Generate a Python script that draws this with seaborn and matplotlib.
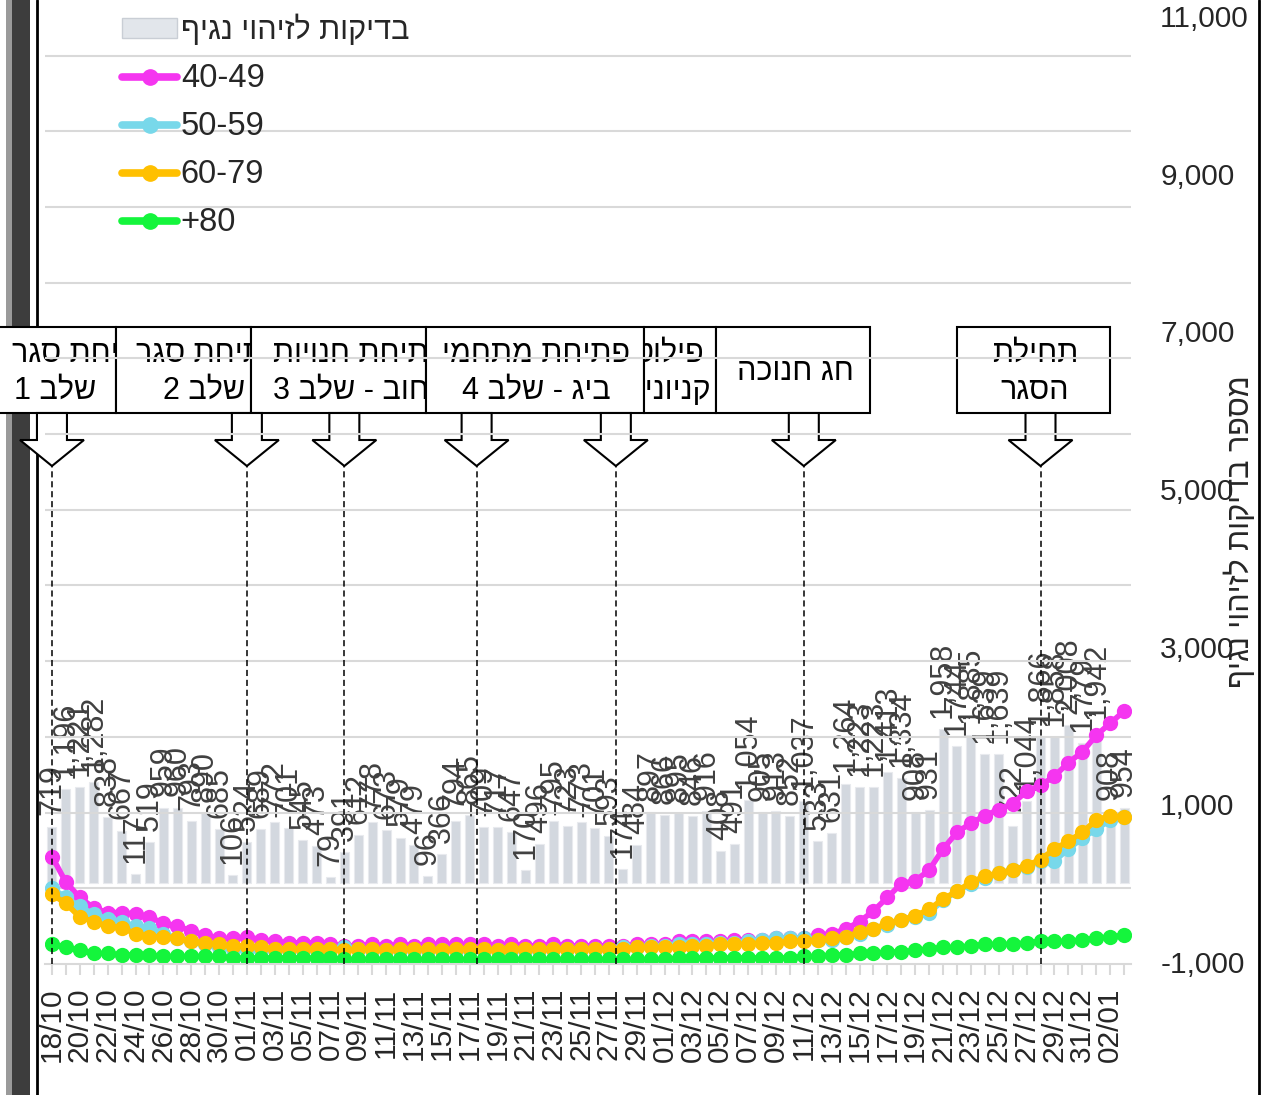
import re
import numpy as np
import pandas as pd
import matplotlib
matplotlib.use('Agg')
import matplotlib.pyplot as plt
import seaborn as sns
from matplotlib.patches import Rectangle, Polygon, Patch
from matplotlib.lines import Line2D
from matplotlib.transforms import Bbox, TransformedBbox

# data (18/10/2020 - 03/01/2021)
dates = pd.date_range('2020-10-18', '2021-01-03').strftime('%d/%m').tolist()

tests = [719, 1196, 1221, 1282, 838, 667, 117, 519, 959, 960, 793, 890, 685, 106,
         524, 689, 772, 701, 545, 473, 79, 391, 612, 778, 673, 579, 479, 96,
         366, 794, 865, 709, 717, 647, 170, 496, 795, 723, 773, 701, 593, 174,
         484, 897, 866, 895, 846, 916, 408, 491, 1054, 905, 913, 852, 1037, 533,
         631, 1264, 1223, 1223, 1413, 1334, 908, 931, 1958, 1744, 1885, 1639, 1639, 722,
         1044, 1866, 1858, 2008, 1779, 1942, 908, 954]

age_40_49 = [71, 54, 44, 37, 34, 34, 33, 31, 27, 25, 22, 19, 17, 17, 18, 16, 15, 14, 14, 14,
             13, 12, 12, 13, 12, 13, 12, 13, 13, 13, 13, 13, 12, 13, 12, 12, 13, 12, 12, 12,
             12, 12, 13, 13, 13, 15, 15, 15, 15, 16, 16, 16, 17, 17, 17, 19, 20, 23, 28, 35,
             44, 53, 55, 62, 76, 87, 93, 98, 102, 106, 114, 118, 124, 133, 140, 151, 159, 167]
age_50_59 = [50, 44, 38, 33, 30, 28, 25, 24, 20, 17, 15, 13, 11, 10, 9, 9, 9, 9, 9, 9,
             10, 11, 10, 9, 9, 9, 9, 9, 9, 9, 9, 9, 9, 9, 9, 9, 10, 10, 10, 10,
             10, 11, 11, 12, 12, 13, 13, 13, 14, 14, 15, 16, 17, 17, 17, 16, 16, 18, 20, 23,
             26, 29, 31, 34, 42, 48, 53, 57, 60, 62, 64, 68, 68, 76, 83, 89, 95, 97]
age_60_79 = [46, 40, 31, 28, 25, 24, 20, 18, 18, 17, 15, 14, 13, 12, 12, 11, 10, 10, 10, 10,
             10, 9, 10, 10, 9, 10, 10, 10, 9, 10, 10, 10, 9, 10, 10, 10, 10, 10, 10, 10,
             10, 10, 11, 11, 11, 11, 12, 12, 13, 13, 13, 14, 14, 15, 15, 16, 17, 18, 21, 23,
             27, 29, 32, 36, 43, 48, 54, 58, 60, 62, 65, 69, 76, 81, 87, 95, 98, 97]
age_80 = [13, 11, 9, 7, 7, 6, 6, 6, 5, 5, 5, 5, 5, 4, 4, 4, 4, 4, 4, 4,
          4, 3, 3, 3, 3, 3, 3, 3, 3, 3, 3, 3, 3, 3, 3, 3, 3, 3, 3, 3,
          3, 3, 3, 3, 3, 4, 4, 4, 4, 4, 4, 4, 4, 4, 5, 5, 6, 6, 7, 7,
          8, 8, 9, 10, 11, 11, 12, 13, 13, 13, 14, 15, 15, 15, 16, 17, 18, 19]

series_names = ['40-49', '50-59', '60-79', '+80']
series_colors = ['#f535f0', '#78d8ea', '#ffc000', '#14f53c']

# event markers: category position of each dashed line
event_pos = [0, 14, 21, 30.5, 40.5, 54, 71]


def heb(s):
    # matplotlib has no bidi support: flip to visual order, keep numbers readable
    r = s[::-1]
    return re.sub(r'\d+', lambda m: m.group(0)[::-1], r)


sns.set_theme(style='white')
plt.rcParams['font.family'] = ['Liberation Sans', 'DejaVu Sans']

W, H = 1268, 1095
fig = plt.figure(figsize=(W / 100, H / 100), dpi=100)
ax = fig.add_axes([45 / W, 1 - 964 / H, 1086 / W, 964 / H])
ax2 = ax.twinx()

# bars on the right axis
df = pd.DataFrame({'date': dates, 'tests': tests})
sns.barplot(data=df, x='date', y='tests', ax=ax2, color='#d3d8df', saturation=1,
            width=0.65, edgecolor='#e8eaee', linewidth=0.8)
for i, v in enumerate(tests):
    ax2.annotate(f'{v:,}', (i, v), xytext=(0, 8), textcoords='offset points',
                 rotation=90, ha='center', va='bottom', fontsize=22, color='#404040')

# age group lines on the hidden left axis
x_idx = np.arange(len(dates))
for name, vals, col in zip(series_names, [age_40_49, age_50_59, age_60_79, age_80], series_colors):
    sns.lineplot(x=x_idx, y=vals, ax=ax, color=col, lw=4, marker='o', markersize=11,
                 markeredgewidth=0, legend=False)

ax.set_zorder(ax2.get_zorder() + 1)
ax.patch.set_visible(False)

ax.set_xlim(-0.5, len(dates) - 0.5)
ax.set_ylim(0, 636.7)
ax2.set_ylim(-1025, 11203)

ax.set_yticks(np.arange(50, 637, 50))
ax.grid(axis='y', color='#d9d9d9', lw=1.5)
ax.grid(axis='x', visible=False)
ax.tick_params(axis='y', left=False, labelleft=False)

ax.set_xticks(range(0, len(dates), 2))
ax.set_xticklabels(dates[::2], rotation=90, fontsize=21.5)
ax.set_xticks(range(len(dates)), minor=True)
ax.tick_params(axis='x', which='both', bottom=True, length=8, width=1.5,
               color='#d9d9d9', direction='out', pad=9)

ax2.set_yticks(range(-1000, 11001, 2000))
ax2.set_yticklabels([f'{t:,}' for t in range(-1000, 11001, 2000)], fontsize=21.5)
ax2.tick_params(axis='y', right=False, length=0, pad=21)
ax2.grid(False)
ax.set_xlabel('')
ax.set_ylabel('')
ax2.set_xlabel('')
ax2.set_ylabel('')

for a in (ax, ax2):
    for s in ('top', 'left', 'right'):
        a.spines[s].set_visible(False)
ax2.spines['bottom'].set_visible(False)
ax.spines['bottom'].set_color('#d9d9d9')
ax.spines['bottom'].set_linewidth(1.5)

# dashed event lines
tip_y = 466
for p in event_pos:
    ax.axvline(p, ymin=0, ymax=(964 - tip_y) / 964, color='black', lw=1.1, ls=(0, (4, 2.5)), zorder=5)

fig.text(1240 / W, 1 - 532 / H, heb('מספר בדיקות לזיהוי נגיף'), rotation=90,
         ha='center', va='center', fontsize=22)

# legend
handles = [Patch(facecolor='#e2e6eb', edgecolor='#c9ced5', label=heb('בדיקות לזיהוי נגיף'))]
for name, col in zip(series_names, series_colors):
    handles.append(Line2D([0], [0], color=col, lw=5.5, marker='o', ms=11, label=name))
leg = fig.legend(handles=handles, loc='upper left', bbox_to_anchor=(122 / W, 1 - 15 / H),
                 frameon=False, fontsize=23.5, handlelength=1.7, handleheight=0.55,
                 handletextpad=0.1, labelspacing=0.52, borderpad=0, borderaxespad=0)
leg.get_texts()[0].set_fontsize(22)

# overlay in pixel coordinates for the frame, boxes and arrows
ov = fig.add_axes([0, 0, 1, 1])
ov.set_xlim(0, W)
ov.set_ylim(H, 0)
ov.axis('off')

ov.add_patch(Rectangle((6, 0), 6, H, fc='#9a9a9a', ec='none', zorder=1))
ov.add_patch(Rectangle((12, 0), 18, H, fc='#3d3d3d', ec='none', zorder=1))
ov.plot([37, 37], [0, H], color='black', lw=2, zorder=1)
ov.plot([1259, 1259], [0, H], color='black', lw=2, zorder=1)

box_top, box_bot = 327, 413
boxes = [
    (-5, 116, [('פתיחת סגר', 12, 'left'), ('שלב 1', 14, 'left')]),
    (116, 251, [('פתיחת סגר', 136, 'left'), ('שלב 2', 245, 'right')]),
    (251, 426, [('פתיחת חנויות', 273, 'left'), ('רחוב - שלב 3', 273, 'left')]),
    (426, 644, [('פתיחת מתחמי', 536, 'center'), ('ביג - שלב 4', 536, 'center')]),
    (644, 716, [('פילוט', 704, 'right'), ('קניונים', 711, 'right')]),
    (716, 870, [('חג חנוכה', 795, 'center')]),
    (957, 1110, [('תחילת', 1035, 'center'), ('הסגר', 1035, 'center')]),
]
for x0, x1, lines in boxes:
    ov.add_patch(Rectangle((x0, box_top), x1 - x0, box_bot - box_top, fc='white', ec='black',
                           lw=1.5, zorder=3))
    clip = TransformedBbox(Bbox([[x0 + 1, box_top + 1], [x1 - 1, box_bot - 1]]), ov.transData)
    ys = [372] if len(lines) == 1 else [354, 391]
    for (txt, tx, ha), ty in zip(lines, ys):
        t = ov.text(tx, ty, heb(txt), ha=ha, va='center', fontsize=22, color='black', zorder=4)
        t.set_clip_box(clip)
        t.set_clip_on(True)

for p in event_pos:
    xc = ax.transData.transform((p, 0))[0]
    pts = [(xc - 15, box_bot), (xc + 15, box_bot), (xc + 15, 440), (xc + 32, 440),
           (xc, tip_y), (xc - 32, 440), (xc - 15, 440)]
    ov.add_patch(Polygon(pts, closed=True, fc='white', ec='black', lw=1.5, zorder=3))

fig.savefig('out.png', dpi=100)
